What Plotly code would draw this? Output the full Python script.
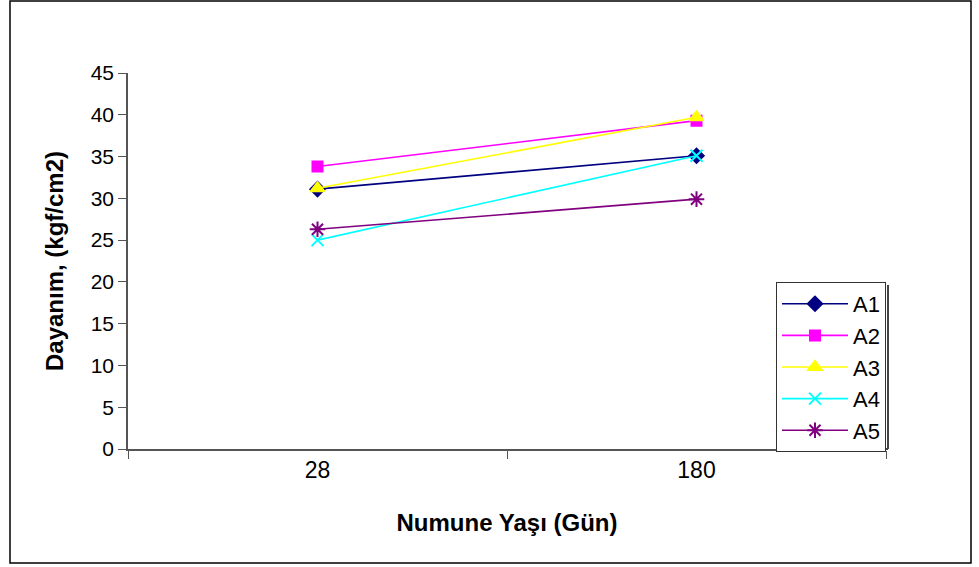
import plotly.graph_objects as go

# Sample age categories (days)
ages = ["28", "180"]

# Strength values (kgf/cm2) per mix
series_names = ["A1", "A2", "A3", "A4", "A5"]
a1 = [31.1, 35.1]
a2 = [33.8, 39.3]
a3 = [31.2, 39.7]
a4 = [25.0, 35.1]
a5 = [26.3, 29.9]
values = [a1, a2, a3, a4, a5]

colors = ["#000080", "#FF00FF", "#FFFF00", "#00FFFF", "#800080"]
symbols = ["diamond", "square", "triangle-up", "x-thin", "asterisk"]
sizes = [11, 10, 12, 12, 13]

fig = go.Figure()
for name, vals, col, sym, sz in zip(series_names, values, colors, symbols, sizes):
    fig.add_trace(go.Scatter(
        x=ages, y=vals, name=name, mode="lines+markers", legendgroup=name,
        line=dict(color=col, width=1.6),
        marker=dict(symbol=sym, size=sz, color=col,
                    line=dict(color=col, width=2)),
    ))

W, H = 979, 567
L, R, T, B = 128, 93, 73, 118
pw, ph = W - L - R, H - T - B

def px(x):
    return (x - L) / pw

def py(y):
    return (H - B - y) / ph

fig.update_layout(
    width=W, height=H,
    margin=dict(l=L, r=R, t=T, b=B),
    paper_bgcolor="white", plot_bgcolor="white",
    font=dict(family="Arial, Liberation Sans, sans-serif", color="black", size=20),
    showlegend=True,
    legend=dict(
        x=px(776), y=py(282), xanchor="left", yanchor="top",
        bordercolor="#333333", borderwidth=1, bgcolor="white",
        font=dict(size=22), tracegroupgap=0, itemwidth=66,
    ),
    xaxis=dict(
        type="category", range=[-0.5, 1.5],
        showline=True, linecolor="#555555", linewidth=1.5,
        ticks="outside", tickson="boundaries", ticklen=8, tickcolor="#555555",
        showgrid=False, zeroline=False,
        tickfont=dict(size=23),
        title=dict(text="<b>Numune Yaşı (Gün)</b>", font=dict(size=24), standoff=32),
    ),
    yaxis=dict(
        range=[0, 45], dtick=5,
        showline=True, linecolor="#555555", linewidth=1.5,
        ticks="outside", ticklen=8, tickcolor="#555555",
        showgrid=False, zeroline=False,
        tickfont=dict(size=21),
        title=dict(text="<b>Dayanım, (kgf/cm2)</b>", font=dict(size=24), standoff=20),
    ),
)

# Outer chart frame
fig.add_shape(type="rect", xref="paper", yref="paper",
              x0=px(10), x1=px(971), y0=py(563), y1=py(1),
              line=dict(color="black", width=1.5), layer="below")

# Drop shadow along the legend's right and bottom edges
fig.add_shape(type="line", xref="paper", yref="paper",
              x0=px(888), x1=px(888), y0=py(285), y1=py(449),
              line=dict(color="#444444", width=2))
fig.add_shape(type="line", xref="paper", yref="paper",
              x0=px(779), x1=px(888), y0=py(449), y1=py(449),
              line=dict(color="#444444", width=2))

fig.write_html("out.html")
